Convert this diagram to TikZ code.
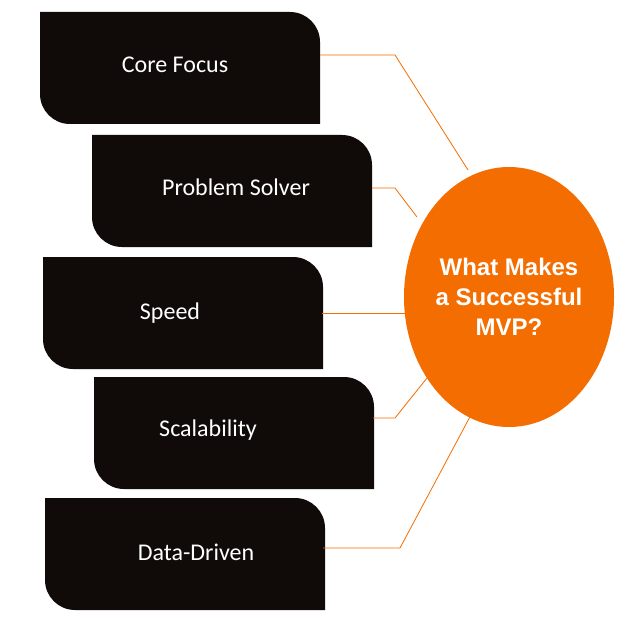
\documentclass[tikz,border=0pt]{standalone}
\usepackage{fontspec}
\setmainfont{Carlito}
\newfontfamily\headfont{Liberation Sans}
\usetikzlibrary{positioning,shapes.geometric}
\definecolor{boxblack}{HTML}{100B08}
\definecolor{mvporange}{HTML}{F46D01}
\tikzset{
  boxfill/.style={fill=boxblack},
  boxlabel/.style={text=white,font=\fontsize{24}{28}\selectfont,inner sep=0pt},
  link/.style={draw=mvporange,line width=0.8pt},
}
% \mvpbox{name}{left x}{top y}
\newcommand{\mvpbox}[3]{%
  \fill[boxfill] (#2,#3) -- ++(250,0) arc[start angle=90,end angle=0,radius=30]
    -- ++(0,-82) -- ++(-250,0) arc[start angle=270,end angle=180,radius=30] -- cycle;
  \coordinate (#1) at ($(#2,#3)+(140,-56)$);
}
\usetikzlibrary{calc}
\begin{document}
\begin{tikzpicture}[x=1pt,y=1pt]
\useasboundingbox (0,0) rectangle (626,625);

\mvpbox{core}{40}{613}
\mvpbox{problem}{92}{490}
\mvpbox{speed}{43}{368}
\mvpbox{scale}{94}{248}
\mvpbox{data}{45}{127}

\node[boxlabel] (corel) at (175,560) {Core Focus};
\node[boxlabel] (probleml) at (236,438) {Problem Solver};
\node[boxlabel] (speedl) at (170,312) {Speed};
\node[boxlabel] (scalel) at (208,195) {Scalability};
\node[boxlabel] (datal) at (196,73) {Data-Driven};

% centre
\node[ellipse,fill=mvporange,minimum width=210,minimum height=260,inner sep=0pt,
  text=white,align=center,font=\headfont\bfseries\fontsize{24}{30}\selectfont]
  (mvp) at (509,328) {What Makes\\a Successful\\MVP?};

% connectors
\coordinate (c1) at (320,570); \coordinate (k1) at (395,570); \coordinate (e1) at (468,455);
\coordinate (c2) at (372,437); \coordinate (k2) at (395,437); \coordinate (e2) at (417,408);
\coordinate (c3) at (322,312); \coordinate (e3) at (405,312);
\coordinate (c4) at (373,207); \coordinate (k4) at (395,207); \coordinate (e4) at (427,247);
\coordinate (c5) at (323,77); \coordinate (k5) at (400,77); \coordinate (e5) at (472,212);
\draw[link] (c1) -- (k1) -- (e1);
\draw[link] (c2) -- (k2) -- (e2);
\draw[link] (c3) -- (e3);
\draw[link] (c4) -- (k4) -- (e4);
\draw[link] (c5) -- (k5) -- (e5);
\end{tikzpicture}
\end{document}
